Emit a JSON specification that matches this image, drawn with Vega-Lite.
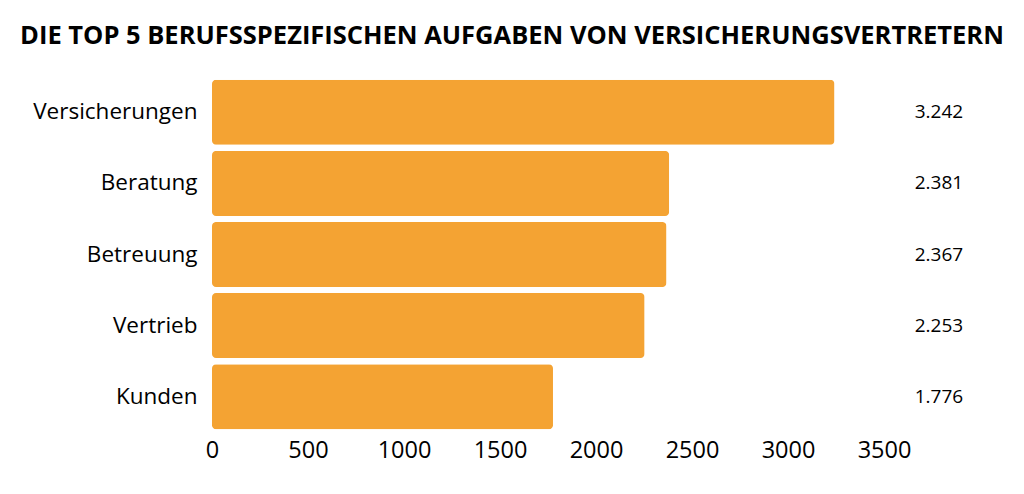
{
  "$schema": "https://vega.github.io/schema/vega-lite/v6.json",
  "autosize": {"type": "none"},
  "width": 672,
  "height": 355,
  "padding": {"left": 212, "top": 77, "right": 140, "bottom": 62},
  "background": "white",
  "title": {
    "text": "DIE TOP 5 BERUFSSPEZIFISCHEN AUFGABEN VON VERSICHERUNGSVERTRETERN",
    "font": "Open Sans",
    "fontSize": 25.5,
    "fontWeight": "bold",
    "color": "black",
    "anchor": "middle",
    "dx": -36,
    "offset": 28
  },
  "data": {
    "values": [
      {"aufgabe": "Versicherungen", "anzahl": 3242},
      {"aufgabe": "Beratung", "anzahl": 2381},
      {"aufgabe": "Betreuung", "anzahl": 2367},
      {"aufgabe": "Vertrieb", "anzahl": 2253},
      {"aufgabe": "Kunden", "anzahl": 1776}
    ]
  },
  "encoding": {
    "y": {
      "field": "aufgabe",
      "type": "nominal",
      "sort": null,
      "title": null,
      "scale": {"paddingInner": 0.085, "paddingOuter": 0.04},
      "axis": {
        "domain": false,
        "ticks": false,
        "labelPadding": 15,
        "labelFont": "Open Sans",
        "labelFontSize": 22.5,
        "labelColor": "black"
      }
    }
  },
  "layer": [
    {
      "mark": {"type": "bar", "color": "#F4A333", "cornerRadius": 4},
      "encoding": {
        "x": {
          "field": "anzahl",
          "type": "quantitative",
          "title": null,
          "scale": {"domain": [0, 3500]},
          "axis": {
            "values": [0, 500, 1000, 1500, 2000, 2500, 3000, 3500],
            "format": "d",
            "domain": false,
            "ticks": false,
            "grid": false,
            "labelFlush": false,
            "labelPadding": 6,
            "labelFont": "Open Sans",
            "labelFontSize": 23.5,
            "labelColor": "black"
          }
        }
      }
    },
    {
      "mark": {"type": "text", "align": "left", "font": "Open Sans", "fontSize": 19, "color": "black"},
      "encoding": {
        "x": {"datum": 3660, "type": "quantitative"},
        "text": {"field": "anzahl", "type": "quantitative", "format": ",d"}
      }
    }
  ],
  "config": {
    "view": {"stroke": null},
    "locale": {
      "number": {"decimal": ",", "thousands": ".", "grouping": [3], "currency": ["", " €"]}
    }
  }
}
